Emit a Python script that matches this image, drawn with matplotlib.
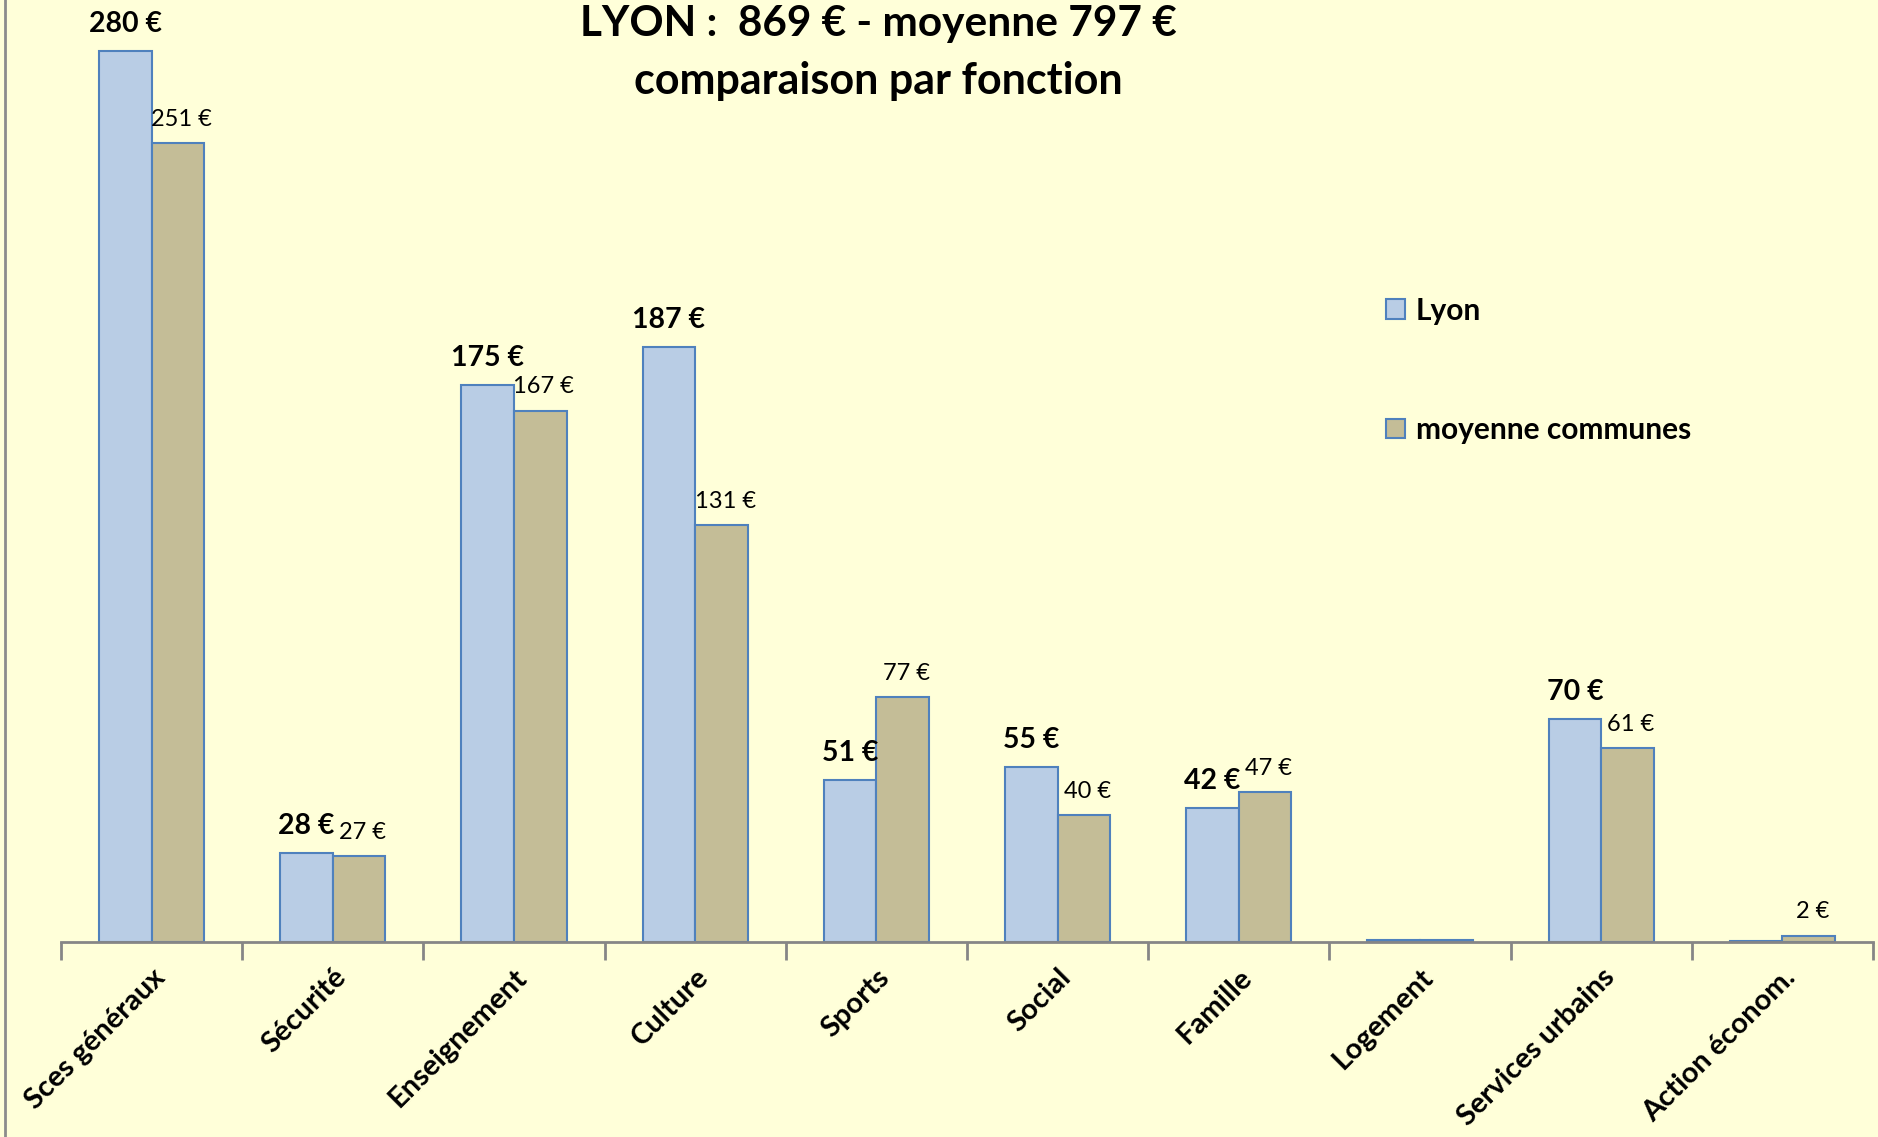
import matplotlib.pyplot as plt
from matplotlib.lines import Line2D
import numpy as np

plt.rcParams['font.family'] = ['Lato', 'DejaVu Sans']

categories = ['Sces généraux', 'Sécurité', 'Enseignement', 'Culture', 'Sports',
              'Social', 'Famille', 'Logement', 'Services urbains', 'Action économ.']
lyon = [280, 28, 175, 187, 51, 55, 42, 0.5, 70, 0.4]
moyenne = [251, 27, 167, 131, 77, 40, 47, 0.5, 61, 2]
series_names = ['Lyon', 'moyenne communes']

bg = '#FFFFD9'
col_lyon = '#B9CDE5'
col_moy = '#C4BD97'
edge = '#4F81BD'

fig = plt.figure(figsize=(18.78, 11.37), dpi=100, facecolor=bg)
ax = fig.add_axes([0.0325, 0.1715, 0.9648, 0.8285], facecolor=bg)

x = np.arange(len(categories))
w = 0.29
ax.bar(x - w / 2, lyon, w, color=col_lyon, edgecolor=edge, linewidth=1.5, label=series_names[0])
ax.bar(x + w / 2, moyenne, w, color=col_moy, edgecolor=edge, linewidth=1.5, label=series_names[1])

# etiquettes des valeurs
for xi, v in zip(x, lyon):
    if v >= 1:
        ax.annotate(f'{v:g} €', (xi - w / 2, v), xytext=(0, 10), textcoords='offset points',
                    ha='center', va='bottom', fontsize=20.5, fontweight='bold')
for xi, v in zip(x, moyenne):
    if v >= 1:
        ax.annotate(f'{v:g} €', (xi + w / 2 + 0.02, v), xytext=(0, 9.5), textcoords='offset points',
                    ha='center', va='bottom', fontsize=17)

ax.set_xlim(-0.5, len(categories) - 0.5)
ax.set_ylim(0, 296)
for s in ['top', 'right', 'left']:
    ax.spines[s].set_visible(False)
ax.spines['bottom'].set_color('#868686')
ax.spines['bottom'].set_linewidth(2)
ax.set_yticks([])

ax.set_xticks(x)
ax.set_xticklabels(categories, rotation=45, ha='right', rotation_mode='anchor',
                   fontsize=21, fontweight='bold')
ax.tick_params(axis='x', which='major', length=0, pad=16)
ax.set_xticks(np.arange(len(categories) + 1) - 0.5, minor=True)
ax.tick_params(axis='x', which='minor', length=13, width=2, color='#868686')

fig.text(0.4675, 0.979, 'LYON :  869 € - moyenne 797 €', ha='center', va='center',
         fontsize=30.5, fontweight='bold')
fig.text(0.4675, 0.929, 'comparaison par fonction', ha='center', va='center',
         fontsize=31, fontweight='bold')

ax.legend(loc='upper left', bbox_to_anchor=(0.730, 0.752), bbox_transform=fig.transFigure,
          frameon=False, prop={'weight': 'bold', 'size': 21.5},
          labelspacing=3.05, handlelength=0.65, handleheight=0.65, handletextpad=0.35, borderpad=0)

fig.add_artist(Line2D([0.0025, 0.0025], [0, 1], transform=fig.transFigure, color='#8C8C8C', lw=2))

fig.savefig('out.png', dpi=100, facecolor=bg)
